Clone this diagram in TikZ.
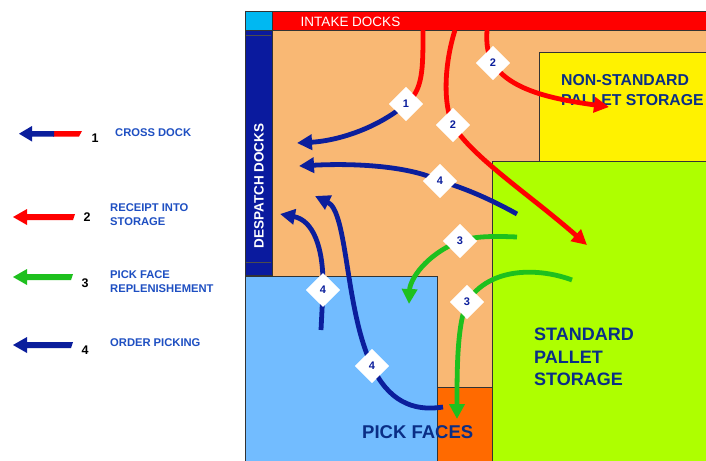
\documentclass[tikz,border=0pt]{standalone}
\usepackage{fontspec}
\setmainfont{Liberation Sans}
\usetikzlibrary{arrows.meta}
\definecolor{peach}{HTML}{F9B874}
\definecolor{lime}{HTML}{AEFF00}
\definecolor{skyb}{HTML}{72BCFF}
\definecolor{dockblue}{HTML}{0A1A9E}
\definecolor{flowblue}{HTML}{0B1E9C}
\definecolor{flowgreen}{HTML}{1EC01E}
\definecolor{labelnavy}{HTML}{0A2E86}
\definecolor{legendblue}{HTML}{1E4FC2}
\definecolor{cyanbox}{HTML}{00B8F2}
\definecolor{pickorange}{HTML}{FF6A00}
\tikzset{
  area/.style={draw=black!80, line width=0.8pt},
  flow/.style={line width=4.8pt},
  redflow/.style={flow, draw=red},
  blueflow/.style={flow, draw=flowblue},
  greenflow/.style={flow, draw=flowgreen},
  tip/.style={-{Triangle[length=15pt,width=15pt]}},
  marker/.style={draw=none, fill=white, minimum size=24pt, inner sep=0pt, rotate=45},
  markernum/.style={inner sep=0pt, font=\bfseries\fontsize{11}{11}\selectfont, text=flowblue},
  zone/.style={text=labelnavy, align=left, anchor=north west, inner sep=0pt},
  legendtext/.style={font=\bfseries\fontsize{11.2}{14}\selectfont, text=legendblue, align=left, anchor=west, inner sep=0pt},
  legendnum/.style={font=\bfseries\fontsize{12.5}{12.5}\selectfont, text=black, inner sep=0pt}
}
\begin{document}
\begin{tikzpicture}[x=1pt,y=-1pt]
\useasboundingbox (0,0) rectangle (706,460);
\fill[white] (0,0) rectangle (706,460);

% ---- building areas ----
\fill[peach] (245,11) rectangle (706,460);
\draw[area, fill=yellow] (539,52) rectangle (710,161);
\draw[area, fill=lime] (492,161) rectangle (710,464);
\draw[area, fill=skyb] (245,276) rectangle (437,464);
\draw[area, fill=pickorange] (437,387) rectangle (492,464);
\draw[area, fill=cyanbox] (245,11) rectangle (272,30);
\draw[area, fill=red] (272,11) rectangle (710,30);
\draw[area, fill=dockblue] (245,30) rectangle (272,275);
\draw[black!70, line width=0.5pt] (246,35) -- (271,35) (246,262) -- (271,262);
\draw[area] (245,11) -- (245,464);

\node[inner sep=0pt, text=white, font=\fontsize{13.5}{13.5}\selectfont] (intake) at (350.5,22) {INTAKE DOCKS};
\node[inner sep=0pt, text=white, font=\bfseries\fontsize{13.5}{13.5}\selectfont, rotate=90] (despatch) at (259,186) {DESPATCH DOCKS};

\node[zone, font=\bfseries\fontsize{15.8}{20}\selectfont] (nonstd) at (561,74) {NON-STANDARD\\PALLET STORAGE};
\node[zone, font=\bfseries\fontsize{18}{22.5}\selectfont] (std) at (534,328) {STANDARD\\PALLET\\STORAGE};
\node[zone, font=\bfseries\fontsize{18.5}{18.5}\selectfont] (pick) at (362,425) {PICK FACES};

% ---- flow start and end points ----
\coordinate (in1) at (423,30);
\coordinate (in2a) at (487,30);
\coordinate (in2b) at (455,30);
\coordinate (t1) at (297,143);
\coordinate (t2a) at (609,107);
\coordinate (t2b) at (587,245);
\coordinate (s3a) at (517,237);
\coordinate (t3a) at (409,304);
\coordinate (s3b) at (572,280);
\coordinate (t3b) at (457,419);
\coordinate (s4a) at (517,214);
\coordinate (t4a) at (299,166);
\coordinate (s4b) at (321,330);
\coordinate (t4b) at (280,214);
\coordinate (s4c) at (443,407);
\coordinate (t4c) at (315,196);

% ---- markers (positions) ----
\node[marker] (d1) at (406,104) {};
\node[marker] (d2a) at (493,63) {};
\node[marker] (d2b) at (453,125) {};
\node[marker] (d3a) at (460,241) {};
\node[marker] (d3b) at (467,302) {};
\node[marker] (d4a) at (440,181) {};
\node[marker] (d4b) at (323,290) {};
\node[marker] (d4c) at (372,366) {};

% ---- flows ----
% 1: cross dock
\draw[redflow] (in1) .. controls (423,70) and (423,90) .. (d1.center);
\draw[blueflow, tip] (d1.center) .. controls (375,130) and (335,141) .. (t1);
% 2: receipt into storage
\draw[redflow] (in2a) .. controls (486,45) and (488,55) .. (d2a.center);
\draw[redflow, tip] (d2a.center) .. controls (510,92) and (560,100) .. (t2a);
\draw[redflow] (in2b) .. controls (444,65) and (443,105) .. (d2b.center);
\draw[redflow, tip] (d2b.center) .. controls (472,157) and (530,195) .. (t2b);
% 3: pick face replenishment
\draw[greenflow] (s3a) .. controls (495,236) and (475,236) .. (d3a.center);
\draw[greenflow, tip] (d3a.center) .. controls (425,255) and (410,280) .. (t3a);
\draw[greenflow] (s3b) .. controls (540,268) and (490,266) .. (d3b.center);
\draw[greenflow, tip] (d3b.center) .. controls (457,325) and (457,370) .. (t3b);
% 4: order picking
\draw[blueflow] (s4a) .. controls (492,200) and (465,188) .. (d4a.center);
\draw[blueflow, tip] (d4a.center) .. controls (410,166) and (355,163) .. (t4a);
\draw[blueflow] (s4b) -- (d4b.center);
\draw[blueflow, tip] (d4b.center) .. controls (324,245) and (312,220) .. (t4b);
\draw[blueflow] (s4c) .. controls (412,412) and (388,400) .. (d4c.center);
\draw[blueflow, tip] (d4c.center) .. controls (345,310) and (348,212) .. (t4c);

% markers drawn over the flows
\foreach \d/\n in {d1/1,d2a/2,d2b/2,d3a/3,d3b/3,d4a/4,d4b/4,d4c/4}{
  \node[marker] at (\d) {};
  \node[markernum] at (\d) {\n};
}

% ---- legend ----
\fill[red] (53,131) -- (82,131) -- (79,136.5) -- (53,136.5) -- cycle;
\fill[flowblue] (54,131) -- (32,131) -- (32,126) -- (19,133.7) -- (32,141.5) -- (32,136.5) -- (54,136.5) -- cycle;
\fill[red] (75,214) -- (27,214) -- (27,209) -- (13,217) -- (27,225) -- (27,220) -- (73,220) -- cycle;
\fill[flowgreen] (73,274) -- (27,274) -- (27,269) -- (13,277) -- (27,285) -- (27,280) -- (71,280) -- cycle;
\fill[flowblue] (73,342) -- (27,342) -- (27,337) -- (13,345) -- (27,353) -- (27,348) -- (71,348) -- cycle;

\node[legendnum] (n1) at (95,138) {1};
\node[legendnum] (n2) at (87,217) {2};
\node[legendnum] (n3) at (85,283) {3};
\node[legendnum] (n4) at (85,350) {4};
\node[legendtext] (l1) at (115,133) {CROSS DOCK};
\node[legendtext] (l2) at (110,214.5) {RECEIPT INTO\\STORAGE};
\node[legendtext] (l3) at (110,282) {PICK FACE\\REPLENISHEMENT};
\node[legendtext] (l4) at (110,343) {ORDER PICKING};
\end{tikzpicture}
\end{document}
